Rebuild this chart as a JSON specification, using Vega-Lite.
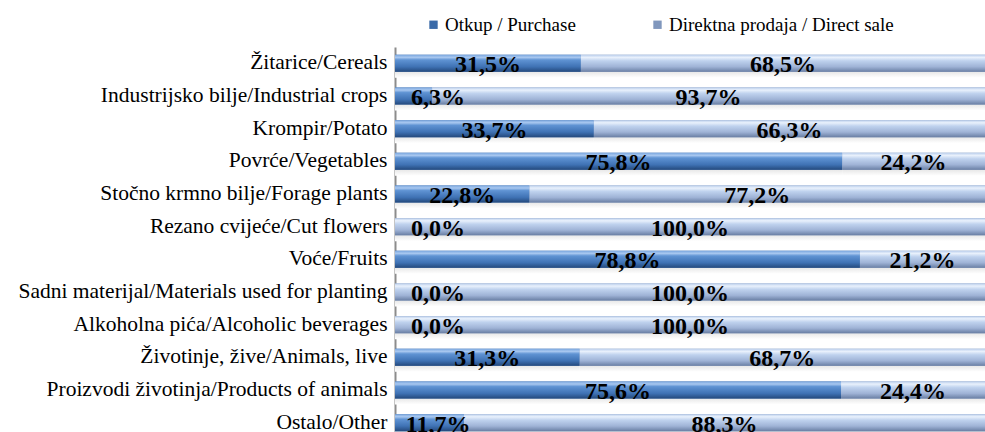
{
  "$schema": "https://vega.github.io/schema/vega-lite/v6.json",
  "autosize": "none",
  "width": 590,
  "height": 392,
  "padding": {"left": 395, "top": 47, "right": 0, "bottom": 0},
  "background": "white",
  "config": {
    "view": {"stroke": null},
    "font": "Liberation Serif"
  },
  "data": {
    "values": [
      {"cat": "Žitarice/Cereals", "series": "Otkup / Purchase", "ord": 0, "value": 31.5},
      {"cat": "Žitarice/Cereals", "series": "Direktna prodaja / Direct sale", "ord": 1, "value": 68.5},
      {"cat": "Industrijsko bilje/Industrial crops", "series": "Otkup / Purchase", "ord": 0, "value": 6.3},
      {"cat": "Industrijsko bilje/Industrial crops", "series": "Direktna prodaja / Direct sale", "ord": 1, "value": 93.7},
      {"cat": "Krompir/Potato", "series": "Otkup / Purchase", "ord": 0, "value": 33.7},
      {"cat": "Krompir/Potato", "series": "Direktna prodaja / Direct sale", "ord": 1, "value": 66.3},
      {"cat": "Povrće/Vegetables", "series": "Otkup / Purchase", "ord": 0, "value": 75.8},
      {"cat": "Povrće/Vegetables", "series": "Direktna prodaja / Direct sale", "ord": 1, "value": 24.2},
      {"cat": "Stočno krmno bilje/Forage plants", "series": "Otkup / Purchase", "ord": 0, "value": 22.8},
      {"cat": "Stočno krmno bilje/Forage plants", "series": "Direktna prodaja / Direct sale", "ord": 1, "value": 77.2},
      {"cat": "Rezano cvijeće/Cut flowers", "series": "Otkup / Purchase", "ord": 0, "value": 0.0},
      {"cat": "Rezano cvijeće/Cut flowers", "series": "Direktna prodaja / Direct sale", "ord": 1, "value": 100.0},
      {"cat": "Voće/Fruits", "series": "Otkup / Purchase", "ord": 0, "value": 78.8},
      {"cat": "Voće/Fruits", "series": "Direktna prodaja / Direct sale", "ord": 1, "value": 21.2},
      {"cat": "Sadni materijal/Materials used for planting", "series": "Otkup / Purchase", "ord": 0, "value": 0.0},
      {"cat": "Sadni materijal/Materials used for planting", "series": "Direktna prodaja / Direct sale", "ord": 1, "value": 100.0},
      {"cat": "Alkoholna pića/Alcoholic beverages", "series": "Otkup / Purchase", "ord": 0, "value": 0.0},
      {"cat": "Alkoholna pića/Alcoholic beverages", "series": "Direktna prodaja / Direct sale", "ord": 1, "value": 100.0},
      {"cat": "Životinje, žive/Animals, live", "series": "Otkup / Purchase", "ord": 0, "value": 31.3},
      {"cat": "Životinje, žive/Animals, live", "series": "Direktna prodaja / Direct sale", "ord": 1, "value": 68.7},
      {"cat": "Proizvodi životinja/Products of animals", "series": "Otkup / Purchase", "ord": 0, "value": 75.6},
      {"cat": "Proizvodi životinja/Products of animals", "series": "Direktna prodaja / Direct sale", "ord": 1, "value": 24.4},
      {"cat": "Ostalo/Other", "series": "Otkup / Purchase", "ord": 0, "value": 11.7},
      {"cat": "Ostalo/Other", "series": "Direktna prodaja / Direct sale", "ord": 1, "value": 88.3}
    ]
  },
  "transform": [
    {"stack": "value", "groupby": ["cat"], "sort": [{"field": "ord", "order": "ascending"}], "as": ["v0", "v1"]},
    {"calculate": "datum.ord === 0 ? max((datum.v0 + datum.v1) / 2, 7.3) : (datum.v0 + datum.v1) / 2", "as": "mid"},
    {"calculate": "replace(format(datum.value, '.1f'), '.', ',') + '%'", "as": "label"}
  ],
  "encoding": {
    "y": {
      "field": "cat",
      "type": "nominal",
      "sort": null,
      "scale": {"paddingInner": 0.48, "paddingOuter": 0.24},
      "axis": {
        "title": null,
        "labelFont": "Liberation Serif",
        "labelFontSize": 21.5,
        "labelColor": "#000000",
        "labelPadding": 8,
        "labelLimit": 500,
        "ticks": false,
        "domainColor": "#8c8c8c",
        "domainWidth": 2
      }
    }
  },
  "layer": [
    {
      "mark": {"type": "bar", "yOffset": 6, "fill": {"gradient": "linear", "x1": 0, "y1": 0, "x2": 0, "y2": 1, "stops": [{"offset": 0, "color": "#b8b8b8"}, {"offset": 0.5, "color": "#dedede"}, {"offset": 1, "color": "#ffffff"}]}},
      "encoding": {
        "x": {"field": "v0", "type": "quantitative", "scale": {"domain": [0, 100], "nice": false}, "axis": null},
        "x2": {"field": "v1"}
      }
    },
    {
      "mark": {"type": "bar"},
      "encoding": {
        "x": {"field": "v0", "type": "quantitative"},
        "x2": {"field": "v1"},
        "color": {
          "field": "series",
          "type": "nominal",
          "sort": ["Otkup / Purchase", "Direktna prodaja / Direct sale"],
          "scale": {"domain": ["Otkup / Purchase", "Direktna prodaja / Direct sale"], "range": ["#3a6aa8", "#8097bd"]},
          "legend": {
            "title": null,
            "orient": "none",
            "legendX": 29,
            "legendY": -32,
            "direction": "horizontal",
            "symbolType": "square",
            "symbolSize": 70,
            "symbolStrokeWidth": 0,
            "labelFont": "Liberation Serif",
            "labelFontSize": 19,
            "labelColor": "#000000",
            "labelOffset": 2,
            "labelLimit": 400,
            "columnPadding": 72
          }
        }
      }
    },
    {
      "transform": [{"filter": "datum.ord === 0"}],
      "mark": {"type": "bar", "fill": {"gradient": "linear", "x1": 0, "y1": 0, "x2": 0, "y2": 1, "stops": [{"offset": 0, "color": "#7aa6de"}, {"offset": 0.15, "color": "#a9c8f0"}, {"offset": 0.3, "color": "#5f93d3"}, {"offset": 0.7, "color": "#3f72b4"}, {"offset": 1, "color": "#24497c"}]}},
      "encoding": {
        "x": {"field": "v0", "type": "quantitative"},
        "x2": {"field": "v1"}
      }
    },
    {
      "transform": [{"filter": "datum.ord === 1"}],
      "mark": {"type": "bar", "fill": {"gradient": "linear", "x1": 0, "y1": 0, "x2": 0, "y2": 1, "stops": [{"offset": 0, "color": "#b9cdeb"}, {"offset": 0.15, "color": "#e9f1fc"}, {"offset": 0.35, "color": "#bfd2ee"}, {"offset": 0.7, "color": "#9fb3d6"}, {"offset": 1, "color": "#6a7fa4"}]}},
      "encoding": {
        "x": {"field": "v0", "type": "quantitative"},
        "x2": {"field": "v1"}
      }
    },
    {
      "mark": {"type": "text", "font": "Liberation Serif", "fontWeight": "bold", "fontSize": 24, "color": "#000000", "align": "center", "baseline": "alphabetic", "dy": 9},
      "encoding": {
        "x": {"field": "mid", "type": "quantitative"},
        "text": {"field": "label"}
      }
    }
  ]
}
